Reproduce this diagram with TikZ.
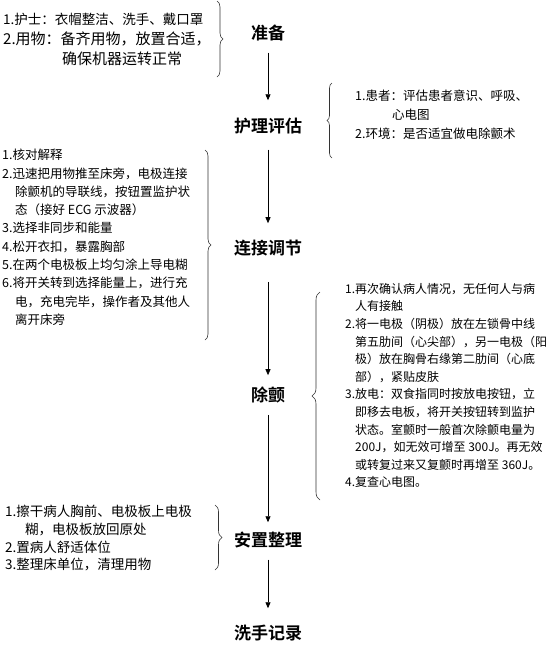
\documentclass[tikz,border=0pt]{standalone}
\usepackage{fontspec}
\setmainfont{Noto Sans CJK SC}[BoldFont={Noto Sans CJK SC Bold}]
\usetikzlibrary{positioning,arrows.meta,decorations.pathreplacing}

\tikzset{
  stage/.style={inner sep=0pt, font=\fontsize{17}{17}\selectfont\bfseries},
  notes/.style={inner sep=0pt, anchor=north west, align=left},
  flow/.style={-{Triangle[length=6pt,width=5pt]}, line width=0.8pt},
  curly/.style={decorate, decoration={brace, amplitude=#1}, line width=0.6pt, black!80},
}

\begin{document}
\begin{tikzpicture}[x=1pt,y=-1pt]
    \useasboundingbox (0,0) rectangle (549,646);

    % Stages
    \node [stage] (prep) at (268,33) {准备};
    \node [stage] (assess) at (268,126) {护理评估};
    \node [stage] (connect) at (268,248) {连接调节};
    \node [stage] (shock) at (268,395) {除颤};
    \node [stage] (tidy) at (268,540) {安置整理};
    \node [stage] (record) at (268,633) {洗手记录};

    \draw [flow, shorten <=11.5pt, shorten >=17.5pt] (prep) -- (assess);
    \draw [flow, shorten <=15.5pt, shorten >=16.5pt] (assess) -- (connect);
    \draw [flow, shorten <=25.5pt, shorten >=11.5pt] (connect) -- (shock);
    \draw [flow, shorten <=11.5pt, shorten >=9.5pt] (shock) -- (tidy);
    \draw [flow, shorten <=11.5pt, shorten >=16.5pt] (tidy) -- (record);

    % Preparation
    \node [notes, font=\fontsize{15}{20}\selectfont] (prepnote) at (3,13) {%
      {\fontsize{13.5}{20}\selectfont 1.护士：衣帽整洁、洗手、戴口罩}\\
      2.用物：备齐用物，放置合适，\\
      \hspace*{59pt}确保机器运转正常};
    \coordinate (prep top) at (217,1);
    \coordinate (prep bot) at (217,77);
    \draw [curly=6pt] (prep top) -- (prep bot);

    % Assessment
    \node [notes, font=\fontsize{12.5}{19}\selectfont] (assessnote) at (355,90) {%
      1.患者：评估患者意识、呼吸、\\
      \hspace*{37pt}心电图\\
      2.环境：是否适宜做电除颤术};
    \coordinate (assess top) at (332,83);
    \coordinate (assess bot) at (332,158);
    \draw [curly=5pt] (assess bot) -- (assess top);

    % Connection
    \node [notes, font=\fontsize{12.5}{18.3}\selectfont] (connectnote) at (2,149) {%
      1.核对解释\\
      2.迅速把用物推至床旁，电极连接\\
      \hspace*{13pt}除颤机的导联线，按钮置监护状\\
      \hspace*{13pt}态（接好 ECG 示波器）\\
      3.选择非同步和能量\\
      4.松开衣扣，暴露胸部\\
      5.在两个电极板上均匀涂上导电糊\\
      6.将开关转到选择能量上，进行充\\
      \hspace*{13pt}电，充电完毕，操作者及其他人\\
      \hspace*{13pt}离开床旁};
    \coordinate (connect top) at (205,150);
    \coordinate (connect bot) at (205,340);
    \draw [curly=6pt] (connect top) -- (connect bot);

    % Defibrillation
    \node [notes, font=\fontsize{12}{17.6}\selectfont] (shocknote) at (345,283) {%
      1.再次确认病人情况，无任何人与病\\
      \hspace*{10pt}人有接触\\
      2.将一电极（阴极）放在左锁骨中线\\
      \hspace*{10pt}第五肋间（心尖部），另一电极（阳\\
      \hspace*{10pt}极）放在胸骨右缘第二肋间（心底\\
      \hspace*{10pt}部），紧贴皮肤\\
      3.放电：双食指同时按放电按钮，立\\
      \hspace*{10pt}即移去电板，将开关按钮转到监护\\
      \hspace*{10pt}状态。室颤时一般首次除颤电量为\\
      \hspace*{10pt}200J，如无效可增至 300J。再无效\\
      \hspace*{10pt}或转复过来又复颤时再增至 360J。\\
      4.复查心电图。};
    \coordinate (shock top) at (320,292);
    \coordinate (shock bot) at (320,500);
    \draw [curly=8pt] (shock bot) -- (shock top);

    % Tidying up
    \node [notes, font=\fontsize{13.5}{17.7}\selectfont] (tidynote) at (5,505) {%
      1.擦干病人胸前、电极板上电极\\
      \hspace*{20pt}糊，电极板放回原处\\
      2.置病人舒适体位\\
      3.整理床单位，清理用物};
    \coordinate (tidy top) at (215,505);
    \coordinate (tidy bot) at (215,570);
    \draw [curly=7pt] (tidy top) -- (tidy bot);
\end{tikzpicture}
\end{document}
